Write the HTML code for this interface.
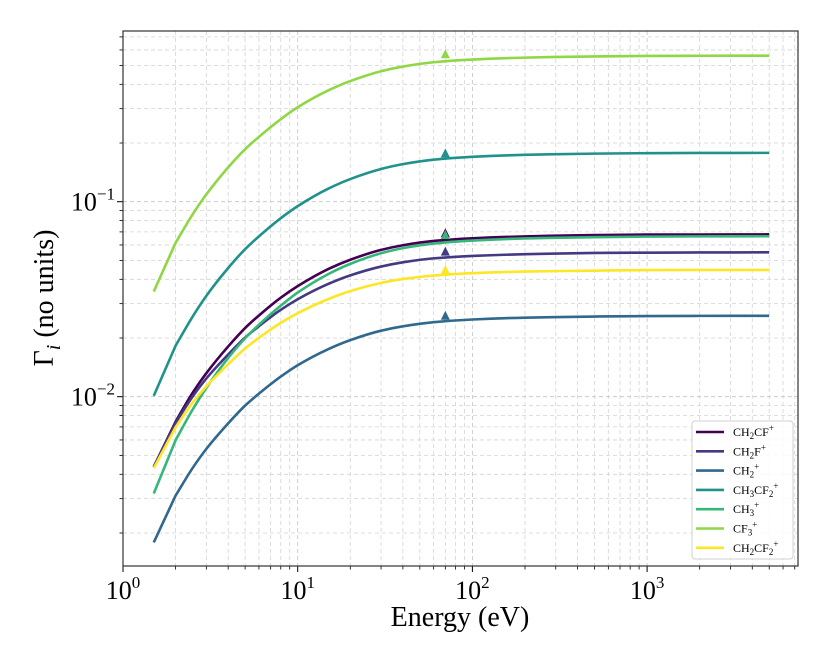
<!DOCTYPE html>
<html><head><meta charset="utf-8">
<style>
html,body{margin:0;padding:0;background:#fff;}
svg{display:block;font-family:"Liberation Serif","DejaVu Serif",serif;}
</style></head>
<body>
<svg id="chart" width="830" height="664" viewBox="0 0 830 664">
  <rect x="0" y="0" width="830" height="664" fill="#fff"/>
  <g id="grid"></g>
  <g id="series"></g>
  <g id="axes"></g>
  <g id="legend"></g>
  <text x="460" y="626" font-size="28" text-anchor="middle">Energy (eV)</text>
  <text transform="translate(53,298) rotate(-90)" font-size="28" text-anchor="middle">Γ<tspan font-style="italic" font-size="20" dy="7">i</tspan><tspan dy="-7"> (no units)</tspan></text>
</svg>
<script>
const energies = [1.5,2,2.5,3,4,5,6,8,10,15,20,30,40,60,100,200,500,1000,2000,5000];
const seriesNames = ["CH2CF+","CH2F+","CH2+","CH3CF2+","CH3+","CF3+","CH2CF2+"];
const seriesLabelsHtml = ["CH<tspan font-size='9' dy='3'>2</tspan><tspan dy='-3'>CF</tspan><tspan font-size='9' dy='-5'>+</tspan>",
 "CH<tspan font-size='9' dy='3'>2</tspan><tspan dy='-3'>F</tspan><tspan font-size='9' dy='-5'>+</tspan>",
 "CH<tspan font-size='9' dy='3'>2</tspan><tspan font-size='9' dy='-8'>+</tspan>",
 "CH<tspan font-size='9' dy='3'>3</tspan><tspan dy='-3'>CF</tspan><tspan font-size='9' dy='3'>2</tspan><tspan font-size='9' dy='-8'>+</tspan>",
 "CH<tspan font-size='9' dy='3'>3</tspan><tspan font-size='9' dy='-8'>+</tspan>",
 "CF<tspan font-size='9' dy='3'>3</tspan><tspan font-size='9' dy='-8'>+</tspan>",
 "CH<tspan font-size='9' dy='3'>2</tspan><tspan dy='-3'>CF</tspan><tspan font-size='9' dy='3'>2</tspan><tspan font-size='9' dy='-8'>+</tspan>"];
const colors = ["#440154","#443983","#31688e","#21918c","#35b779","#8fd744","#fde725"];
const valsCH2CF = [0.00437,0.00745,0.01045,0.0132,0.0181,0.0225,0.0261,0.0322,0.0369,0.0452,0.0504,0.0566,0.0598,0.0629,0.0649,0.0664,0.0674,0.0678,0.0679,0.068];
const valsCH2F = [0.00436,0.00735,0.0100,0.0124,0.01646,0.0201,0.0230,0.0279,0.0316,0.0379,0.0419,0.0465,0.0489,0.0512,0.0527,0.0538,0.0546,0.0548,0.0549,0.055];
const valsCH2 = [0.00179,0.00311,0.0043,0.0054,0.0073,0.009,0.01037,0.01268,0.0145,0.01755,0.0195,0.0218,0.02296,0.0241,0.02488,0.02543,0.02577,0.02592,0.02597,0.026];
const valsCH3CF2 = [0.0101,0.01826,0.0257,0.0329,0.0457,0.0571,0.0664,0.0823,0.0949,0.1168,0.1307,0.1472,0.1559,0.1643,0.1698,0.1739,0.1764,0.1774,0.1778,0.178];
const valsCH3 = [0.00319,0.00598,0.00857,0.0111,0.0158,0.01995,0.0234,0.0293,0.0342,0.0426,0.048,0.0544,0.0578,0.0610,0.0632,0.0648,0.0658,0.0662,0.0664,0.0665];
const valsCF3 = [0.0346,0.0615,0.0859,0.109,0.150,0.186,0.215,0.265,0.305,0.3725,0.4157,0.4668,0.4931,0.5189,0.5358,0.5481,0.5560,0.5591,0.5603,0.561];
const valsCH2CF2 = [0.0043,0.00697,0.0093,0.0113,0.01467,0.01766,0.02003,0.0239,0.0268,0.0317,0.0348,0.0383,0.0401,0.0418,0.0430,0.0438,0.0443,0.0446,0.0447,0.0447];
const markerEnergy = 70;
const markerValues = [0.0689,0.0555,0.026,0.177,0.0675,0.57,0.0447];
const xTickExps = [0,1,2,3];
const yTickExps = [-2,-1];

const L=123,R=798,T=31,B=566;
const xMinLog=0, xMaxLog=(R-L)/174.7;
const yMaxLog=-1+(201.7-T)/195, yMinLog=-2-(B-396.7)/195;
function xs(v){return L+(Math.log10(v)-xMinLog)/(xMaxLog-xMinLog)*(R-L);}
function ys(v){return T+(yMaxLog-Math.log10(v))/(yMaxLog-yMinLog)*(B-T);}
const NS="http://www.w3.org/2000/svg";
function mk(tag,attrs,parent){const e=document.createElementNS(NS,tag);for(const k in attrs)e.setAttribute(k,attrs[k]);parent.appendChild(e);return e;}

const grid=document.getElementById('grid');
const axes=document.getElementById('axes');
for(let e=0;e<=4;e++){for(let m=1;m<10;m++){const v=m*Math.pow(10,e);const x=xs(v);if(x<L||x>R)continue;
 const g=mk('line',{x1:x,x2:x,y1:T,y2:B,stroke:m===1?'#c4c4c4':'#d4d4d4','stroke-width':0.8,'stroke-dasharray':'4,3'},grid);
 
 
 const t=mk('line',{x1:x,x2:x,y1:B,y2:B+(m===1?6:3.5),stroke:'#000','stroke-width':m===1?1:0.8},axes);
 
 
}}
for(let e=-3;e<=0;e++){for(let m=1;m<10;m++){const v=m*Math.pow(10,e);const y=ys(v);if(y<T||y>B)continue;
 const g=mk('line',{x1:L,x2:R,y1:y,y2:y,stroke:m===1?'#c4c4c4':'#d4d4d4','stroke-width':0.8,'stroke-dasharray':'4,3'},grid);
 
 
 const t=mk('line',{x1:L-(m===1?6:3.5),x2:L,y1:y,y2:y,stroke:'#000','stroke-width':m===1?1:0.8},axes);
 
 
}}
const frame=mk('rect',{x:L,y:T,width:R-L,height:B-T,fill:'none',stroke:'#333','stroke-width':1.2},axes);


xTickExps.forEach(e=>{const t=mk('text',{x:xs(Math.pow(10,e)),y:B+33,'font-size':26,'text-anchor':'middle'},axes);
 t.innerHTML='10<tspan font-size="17" dy="-11">'+e+'</tspan>';
 
 });
yTickExps.forEach(e=>{const t=mk('text',{x:L-8,y:ys(Math.pow(10,e))+9,'font-size':26,'text-anchor':'end'},axes);
 t.innerHTML='10<tspan font-size="17" dy="-11">\u2212'+(-e)+'</tspan>';
 
 });

function pchipPath(pts){
 let d='M'+pts[0][0].toFixed(2)+','+pts[0][1].toFixed(2)+' L'+pts[1][0].toFixed(2)+','+pts[1][1].toFixed(2);
 const P=pts.slice(1), m=P.length;
 const h=[],del=[];
 for(let k=0;k<m-1;k++){h.push(P[k+1][0]-P[k][0]);del.push((P[k+1][1]-P[k][1])/h[k]);}
 const t=new Array(m);
 t[0]=del[0];t[m-1]=del[m-2];
 for(let k=1;k<m-1;k++){
  if(del[k-1]*del[k]<=0){t[k]=0;continue;}
  const w1=2*h[k]+h[k-1],w2=h[k]+2*h[k-1];
  t[k]=(w1+w2)/(w1/del[k-1]+w2/del[k]);
 }
 for(let k=0;k<m-1;k++){
  const x0=P[k][0],y0=P[k][1],x1=P[k+1][0],y1=P[k+1][1],hk=h[k];
  d+=' C'+(x0+hk/3).toFixed(2)+','+(y0+t[k]*hk/3).toFixed(2)+' '+(x1-hk/3).toFixed(2)+','+(y1-t[k+1]*hk/3).toFixed(2)+' '+x1.toFixed(2)+','+y1.toFixed(2);
 }
 return d;
}

const sg=document.getElementById('series');
const allVals=[valsCH2CF,valsCH2F,valsCH2,valsCH3CF2,valsCH3,valsCF3,valsCH2CF2];
allVals.forEach((vals,i)=>{
 const pts=vals.map((v,j)=>[xs(energies[j]),ys(v)]);
 const p=mk('path',{d:pchipPath(pts),fill:'none',stroke:colors[i],'stroke-width':2.6,'stroke-linejoin':'round'},sg);
 
 
});
markerValues.forEach((v,i)=>{
 const x=xs(markerEnergy),y=ys(v);
 const m=mk('polygon',{points:`${x-4.5},${y+4} ${x+4.5},${y+4} ${x},${y-5}`,fill:colors[i]},sg);
 
 
});

const lg=document.getElementById('legend');
const box=mk('rect',{x:692,y:421,width:101,height:138,rx:3,fill:'#fff','fill-opacity':0.85,stroke:'#d0d0d0','stroke-width':1},lg);


seriesNames.forEach((n,i)=>{
 const y=432+i*19.3;
 const l=mk('line',{x1:696,x2:724,y1:y,y2:y,stroke:colors[i],'stroke-width':2.6},lg);
 
 
 const t=mk('text',{x:733,y:y+4,'font-size':12},lg);
 t.innerHTML=seriesLabelsHtml[i];
 
 
});
</script>
</body></html>
